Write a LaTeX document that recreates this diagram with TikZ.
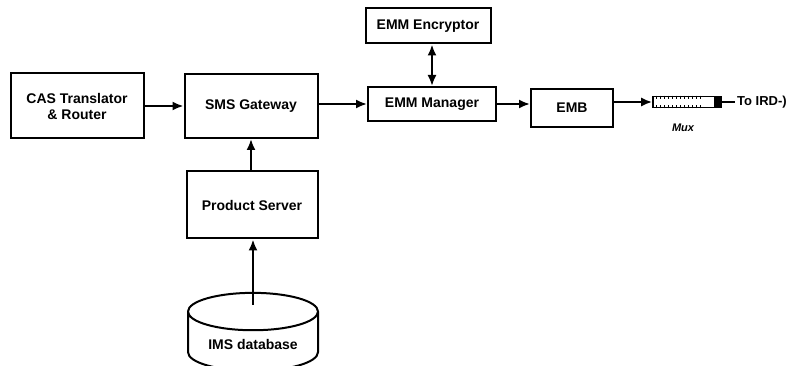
\documentclass[tikz,border=0pt]{standalone}
\usepackage{fontspec}
\setmainfont{Liberation Sans}
\usetikzlibrary{arrows.meta,shapes.geometric}
\tikzset{
  block/.style = {draw, line width=2pt, align=center, inner sep=2pt, font=\bfseries\fontsize{14}{16}\selectfont},
  dbnode/.style = {block, cylinder, shape border rotate=90, aspect=0.4},
  link/.style = {-{Latex[length=11pt,width=9pt]}, line width=2pt},
  twolink/.style = {{Latex[length=11pt,width=9pt]}-{Latex[length=11pt,width=9pt]}, line width=2pt}
}

\begin{document}
\begin{tikzpicture}[x=1pt,y=-1pt]
  \useasboundingbox (0,0) rectangle (790,366);
  % blocks
  \node [block, minimum width=133, minimum height=65] (cas) at (77,106) {CAS Translator\\\& Router};
  \node [block, minimum width=133, minimum height=64] (sms) at (251,106) {SMS Gateway};
  \node [block, minimum width=125, minimum height=35] (enc) at (428,26) {EMM Encryptor};
  \node [block, minimum width=128, minimum height=34] (mgr) at (432,104) {EMM Manager};
  \node [block, minimum width=82, minimum height=38] (emb) at (572,108) {EMB};
  \node [block, minimum width=131, minimum height=67] (prod) at (252,205) {Product Server};
  \node [dbnode, minimum width=130, minimum height=78] (db) at (253,344) {IMS database};
  % mux
  \node [draw, line width=1.6pt, minimum width=68, minimum height=11, inner sep=0pt] (mux) at (687,102) {};
  \foreach \i in {0,...,11}
    \draw [line width=1pt] ([xshift=4+4*\i]mux.north west) -- +(0,3)
                           ([xshift=4+4*\i]mux.south west) -- +(0,-3);
  \fill ([xshift=-8]mux.north east) rectangle (mux.south east);
  \node [font=\bfseries\itshape\fontsize{11}{13}\selectfont, below=12pt] (muxlabel) at ([xshift=-4pt]mux.south) {Mux};
  \node [anchor=west, inner sep=2pt, font=\bfseries\fontsize{13}{15}\selectfont] (ird) at (735,102) {To IRD-)};
  % connectors
  \draw [link] (cas) -- (sms);
  \draw [link] (sms.east |- mgr.west) -- (mgr.west);
  \draw [link] (mgr.east) -- (mgr.east -| emb.west);
  \draw [twolink] (mgr.north |- enc.south) -- (mgr.north);
  \draw [link] (emb.east |- mux.west) -- (mux.west);
  \draw [line width=1.6pt] (mux.east) -- (ird.west);
  \draw [link] (prod.north -| sms.south) -- (sms.south);
  \draw [link] ([yshift=-13pt]db.north) -- (db.north |- prod.south);
\end{tikzpicture}
\end{document}
